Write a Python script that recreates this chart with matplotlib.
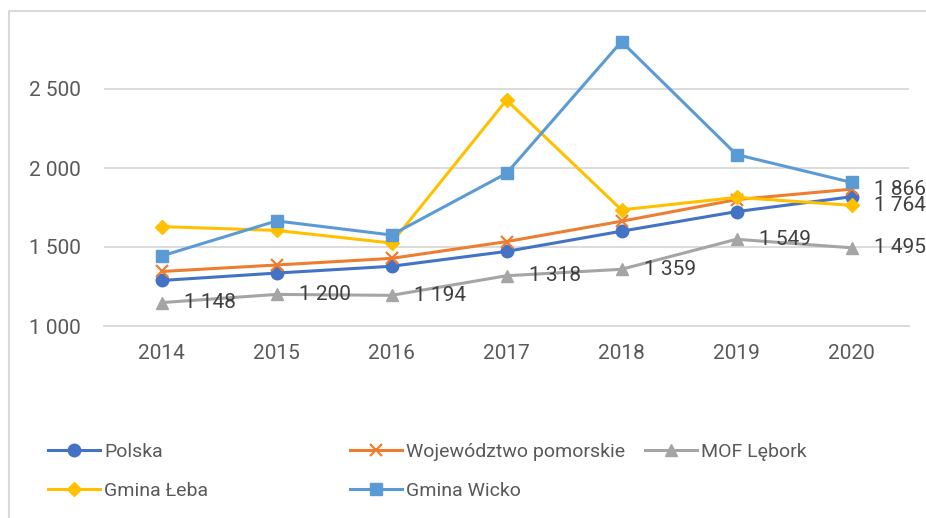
import matplotlib
matplotlib.use("Agg")
import matplotlib.pyplot as plt
from matplotlib.lines import Line2D

plt.rcParams['font.family'] = ['Roboto', 'DejaVu Sans']

years = ["2014", "2015", "2016", "2017", "2018", "2019", "2020"]
polska = [1288, 1335, 1378, 1472, 1600, 1724, 1818]
pomorskie = [1345, 1386, 1428, 1534, 1663, 1800, 1866]
mof_lebork = [1148, 1200, 1194, 1318, 1359, 1549, 1495]
gmina_leba = [1629, 1605, 1525, 2430, 1735, 1814, 1764]
gmina_wicko = [1443, 1665, 1576, 1966, 2800, 2085, 1909]
yticks = [1000, 1500, 2000, 2500]

W, H = 926, 518
fig = plt.figure(figsize=(W / 100, H / 100), dpi=100)
ax = fig.add_axes([104 / W, 1 - 326 / H, 805 / W, 316 / H])

x = list(range(len(years)))
series = [
    ("Polska", polska, "#4472C4", "o", 9, {}),
    ("Województwo pomorskie", pomorskie, "#ED7D31", "x", 8, {"markeredgewidth": 1.6}),
    ("MOF Lębork", mof_lebork, "#A5A5A5", "^", 9, {}),
    ("Gmina Łeba", gmina_leba, "#FFC000", "D", 7.5, {}),
    ("Gmina Wicko", gmina_wicko, "#5B9BD5", "s", 9, {}),
]
order = [2, 1, 0, 4, 3]
lines = {}
for i in order:
    name, vals, col, mk, ms, kw = series[i]
    ln, = ax.plot(x, vals, color=col, lw=2.2, marker=mk, markersize=ms,
                  markerfacecolor=col, markeredgecolor=col, zorder=3 + i, **kw)
    lines[name] = ln

def fmt(v):
    return f"{v:,}".replace(",", " ")

lbl_kw = dict(textcoords="offset points", xytext=(16, 0), ha="left", va="center",
              fontsize=15, color="#404040", zorder=10, annotation_clip=False)
for xi, v in zip(x, mof_lebork):
    ax.annotate(fmt(v), (xi, v), **lbl_kw)
ax.annotate(fmt(pomorskie[-1]), (x[-1], pomorskie[-1]), **lbl_kw)
ax.annotate(fmt(gmina_leba[-1]), (x[-1], gmina_leba[-1]), **lbl_kw)

ax.set_xlim(-0.5, len(years) - 0.5)
ax.set_ylim(1000, 3000)
ax.set_yticks(yticks)
ax.set_yticklabels([fmt(v) for v in yticks])
ax.set_xticks(x)
ax.set_xticklabels(years)
ax.grid(axis="y", color="#D9D9D9", lw=1.3)
ax.set_axisbelow(True)
for s in ["top", "right", "left"]:
    ax.spines[s].set_visible(False)
ax.spines["bottom"].set_color("#D9D9D9")
ax.spines["bottom"].set_linewidth(1.3)
ax.tick_params(axis="both", length=0, labelsize=15, colors="#595959")
ax.tick_params(axis="y", pad=17)
ax.tick_params(axis="x", pad=13)

# chart border (partially visible)
fig.add_artist(Line2D([9 / W, 9 / W, 1.0], [0, 1 - 11 / H, 1 - 11 / H],
                      transform=fig.transFigure, color="#D9D9D9", lw=1.5))

# legend entries placed individually
pos = {
    "Polska": (48, 452),
    "Województwo pomorskie": (350, 452),
    "MOF Lębork": (645, 452),
    "Gmina Łeba": (48, 491),
    "Gmina Wicko": (350, 491),
}
for name, (px, py) in pos.items():
    fig.legend([lines[name]], [name], loc="center left",
               bbox_to_anchor=(px / W, 1 - py / H), frameon=False,
               borderpad=0, borderaxespad=0, handlelength=2.67, handletextpad=0.22,
               fontsize=14, labelcolor="#595959")

fig.savefig("out.png", dpi=100)
